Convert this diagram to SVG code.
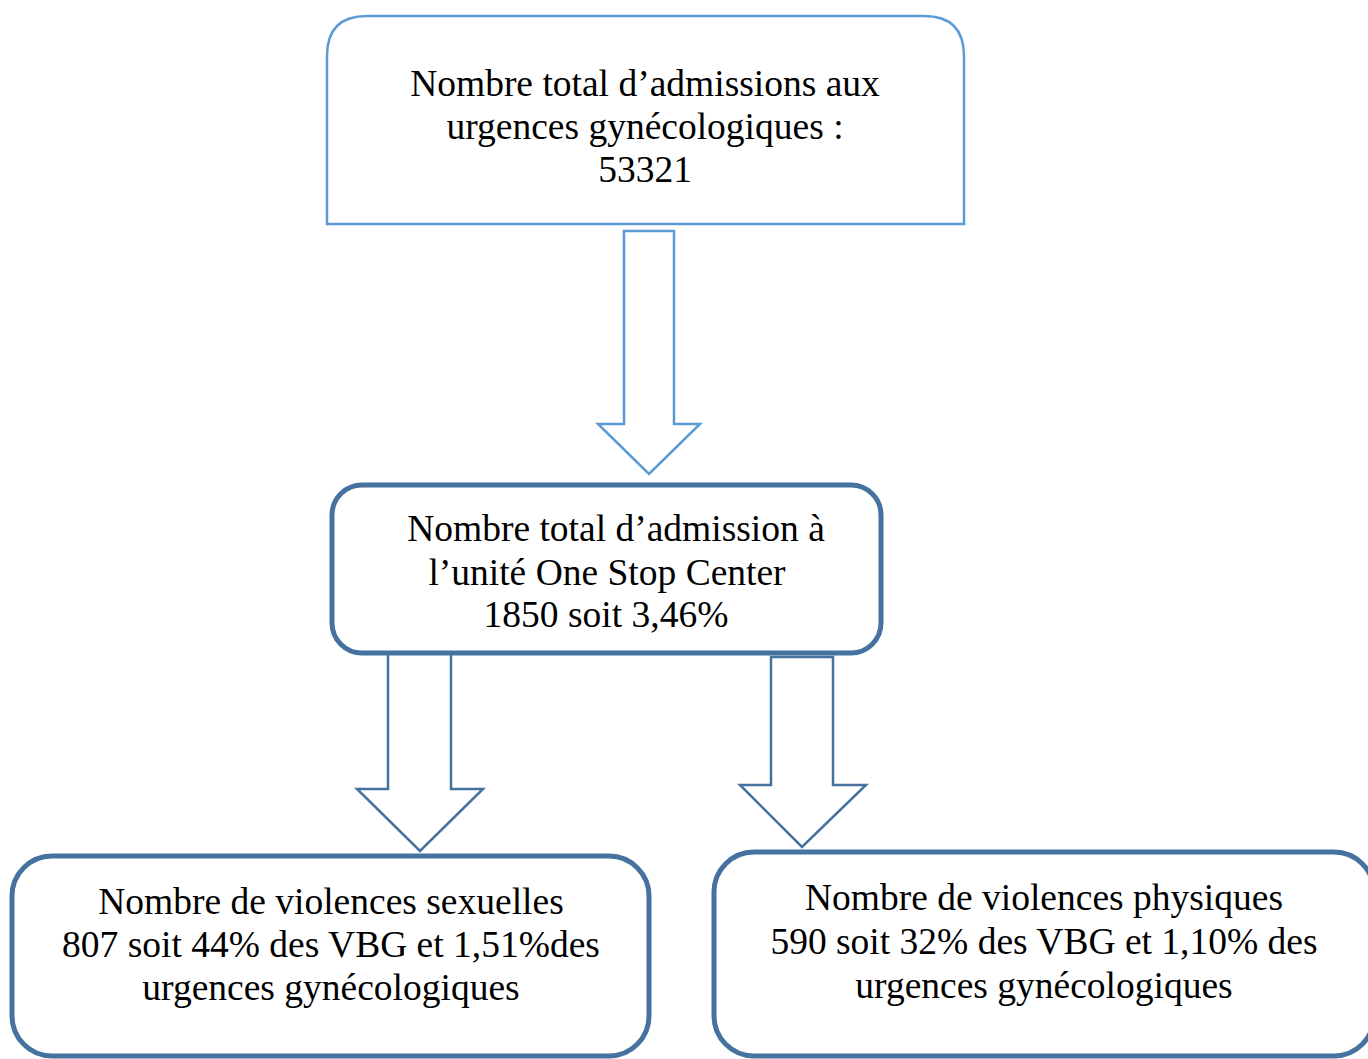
<svg xmlns="http://www.w3.org/2000/svg" width="1368" height="1059" viewBox="0 0 1368 1059">
<style>
text{font-family:"Liberation Serif","Times New Roman",serif;font-size:37.5px;fill:#000;text-anchor:middle}
.light{fill:#fff;stroke:#5B9BD5;stroke-width:2.5}
.dark{fill:#fff;stroke:#4672A0;stroke-width:5}
.arr{fill:#fff;stroke:#4672A0;stroke-width:2.5;stroke-linejoin:miter}
.arrl{fill:#fff;stroke:#5B9BD5;stroke-width:2.5;stroke-linejoin:miter}
</style>
<rect width="1368" height="1059" fill="#fff"/>
<g id="connectors">
<path class="arrl" d="M624,231 H674 V424 H700 L649,474 L598,424 H624 Z"/>
<path class="arr" d="M388,653 V789 H357 L420,851 L483,789 H451 V653"/>
<path class="arr" d="M771,657 H833 V785 H866 L802,847 L740,785 H771 Z"/>
</g>
<g id="node-total">
<path class="light" d="M327,224 V56 Q327,16 367,16 H924 Q964,16 964,56 V224 Z"/>
<text x="645" y="96">Nombre total d’admissions aux</text>
<text x="645" y="139">urgences gynécologiques :</text>
<text x="645" y="182">53321</text>
</g>
<g id="node-osc">
<rect class="dark" x="332" y="485" width="549" height="168" rx="30"/>
<text x="616" y="541">Nombre total d’admission à</text>
<text x="607" y="585">l’unité One Stop Center</text>
<text x="606" y="627">1850 soit 3,46%</text>
</g>
<g id="node-sexuelles">
<rect class="dark" x="12" y="856" width="637" height="200" rx="40"/>
<text x="331" y="914">Nombre de violences sexuelles</text>
<text x="331" y="957">807 soit 44% des VBG et 1,51%des</text>
<text x="331" y="1000">urgences gynécologiques</text>
</g>
<g id="node-physiques">
<rect class="dark" x="714" y="852" width="660" height="204" rx="40"/>
<text x="1044" y="910">Nombre de violences physiques</text>
<text x="1044" y="954">590 soit 32% des VBG et 1,10% des</text>
<text x="1044" y="998">urgences gynécologiques</text>
</g>
</svg>
